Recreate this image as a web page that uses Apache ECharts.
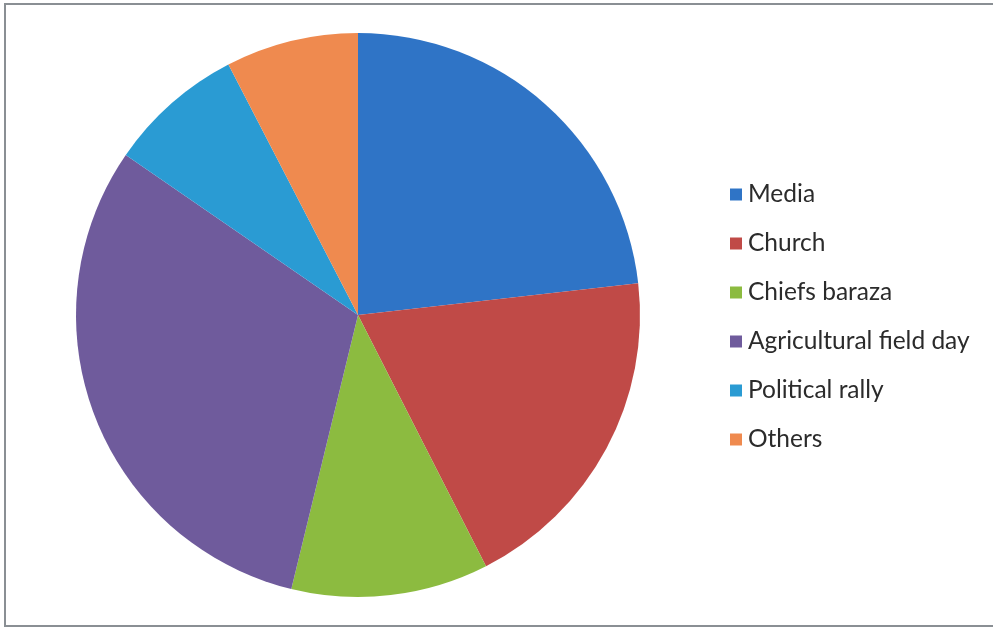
<!DOCTYPE html>
<html><head><meta charset="utf-8">
<script src="https://cdn.jsdelivr.net/npm/echarts@6/dist/echarts.min.js"></script>
<style>
html,body{margin:0;padding:0;background:#fff;overflow:hidden;}
#wrap{position:absolute;left:4px;top:3px;width:1000px;height:624px;border:2px solid #8a8f94;border-right:none;box-sizing:border-box;}
#c{position:absolute;left:0;top:0;width:993px;height:627px;}
</style></head>
<body>
<div id="wrap"></div>
<div id="c"></div>
<script>
const categories = ["Media","Church","Chiefs baraza","Agricultural field day","Political rally","Others"];
const values = [23.2, 19.3, 11.3, 30.8, 7.8, 7.6];
const colors = ["#2f74c6","#c04a47","#8cbb40","#6f5b9c","#2a9bd3","#ef8a4f"];

const chart = echarts.init(document.getElementById('c'));
chart.setOption({
  animation:false,
  color: colors,
  legend:{
    orient:'vertical', left:725, top:176,
    itemWidth:12, itemHeight:12, itemGap:22, icon:'rect',
    textStyle:{fontFamily:'Lato', fontSize:24.5, color:'#2b2b2b', lineHeight:27, padding:[0,0,0,1]},
    data: categories
  },
  series:[{
    type:'pie', center:[358,315], radius:282, startAngle:90, clockwise:true,
    label:{show:false}, labelLine:{show:false},
    itemStyle:{borderWidth:0},
    emphasis:{disabled:true},
    data: categories.map((n,i)=>({name:n, value:values[i]}))
  }]
});
</script>
</body></html>
